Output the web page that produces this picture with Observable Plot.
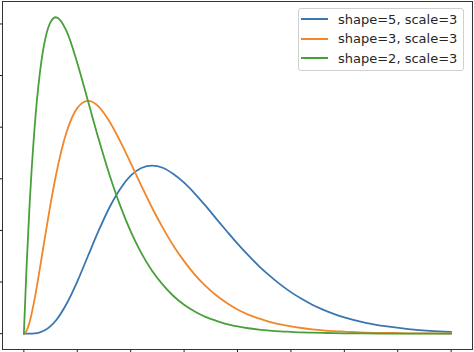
<!DOCTYPE html>
<html>
<head>
<meta charset="utf-8">
<script src="https://cdn.jsdelivr.net/npm/d3@7"></script>
<script src="https://cdn.jsdelivr.net/npm/@observablehq/plot@0.6"></script>
<style>
  html, body { margin: 0; padding: 0; background: #fff; }
  #wrap { position: relative; width: 474px; height: 352px; }
  #legend {
    position: absolute; left: 298px; top: 8px; width: 166px; height: 63px;
    border: 1px solid #d0d0d0; border-radius: 3px; background: rgba(255,255,255,0.8);
    font-family: "DejaVu Sans", sans-serif; font-size: 13px; color: #262626;
    box-sizing: border-box; padding-top: 0.5px;
  }
  .row { display: flex; align-items: center; height: 19.5px; }
  .swatch { display: inline-block; width: 27px; height: 2px; margin-left: 2px; margin-right: 10px; }
</style>
</head>
<body>
<div id="wrap"></div>
<script>
// Sample positions (x) and density values
const xs = [0,0.25,0.5,1,1.5,2,2.5,3,4,5,6,7,8,9,10,11,12,13,14,15,16,17,18,19,20,21,22,23,24,25,26,27,28,29,30,32,34,36,38,40];
const shape5 = [0,0,0.00001,0.0001,0.0005,0.0014,0.0029,0.0051,0.0116,0.0202,0.0301,0.0399,0.0488,0.0560,0.0612,0.0642,0.0651,0.0643,0.0619,0.0585,0.0543,0.0496,0.0446,0.0397,0.0349,0.0304,0.0262,0.0225,0.0191,0.0161,0.0135,0.0112,0.0093,0.0077,0.0063,0.0042,0.0028,0.0018,0.0011,0.0007];
const shape3 = [0,0.0011,0.0039,0.0133,0.0253,0.0380,0.0503,0.0613,0.0781,0.0874,0.0902,0.0880,0.0823,0.0747,0.0661,0.0573,0.0488,0.0411,0.0341,0.0281,0.0229,0.0185,0.0149,0.0119,0.0094,0.0074,0.0059,0.0046,0.0036,0.0028,0.0022,0.0017,0.0013,0.0010,0.0008,0.0004,0.0003,0.00015,0.00008,0.00005];
const shape2 = [0,0.0256,0.0470,0.0796,0.1011,0.1141,0.1207,0.1226,0.1172,0.1049,0.0902,0.0754,0.0618,0.0498,0.0396,0.0312,0.0244,0.0190,0.0146,0.0112,0.0086,0.0065,0.0050,0.0037,0.0028,0.0021,0.0016,0.0012,0.0009,0.0007,0.0005,0.0004,0.0003,0.0002,0.00015,0.00008,0.00005,0.00002,0.00001,0.00001];
const seriesNames = ["shape=5, scale=3", "shape=3, scale=3", "shape=2, scale=3"];
const seriesColors = ["#3b76b1", "#f2862a", "#48a03a"];
const xTicks = [0,5,10,15,20,25,30,35,40];
const yTicks = [0,0.02,0.04,0.06,0.08,0.10,0.12];

const allSeries = [shape5, shape3, shape2];
const table = [];
allSeries.forEach((vals, si) => {
  xs.forEach((x, i) => table.push({series: seriesNames[si], x, y: vals[i]}));
});

const chart = Plot.plot({
  width: 474,
  height: 352,
  marginLeft: 2,
  marginRight: 2,
  marginTop: 1,
  marginBottom: 3,
  x: {domain: [-2, 42], label: null},
  y: {domain: [-0.00613, 0.1287], label: null},
  color: {domain: seriesNames, range: seriesColors},
  style: {background: "#fff"},
  marks: [
    Plot.axisX({ticks: xTicks, tickSize: 3.5, tickFormat: () => "", label: null, stroke: "#000", strokeOpacity: 0.9}),
    Plot.axisY({ticks: yTicks, tickSize: 3.5, tickFormat: () => "", label: null, stroke: "#000", strokeOpacity: 0.9}),
    Plot.line(table, {x: "x", y: "y", z: "series", stroke: "series", strokeWidth: 1.8, curve: "monotone-x"}),
    Plot.frame({stroke: "#333", strokeWidth: 1})
  ]
});
const wrap = document.getElementById("wrap");
wrap.appendChild(chart);

const legend = document.createElement("div");
legend.id = "legend";
seriesNames.forEach((name, i) => {
  const row = document.createElement("div");
  row.className = "row";
  const sw = document.createElement("span");
  sw.className = "swatch";
  sw.style.background = seriesColors[i];
  const label = document.createElement("span");
  label.textContent = name;
  row.appendChild(sw);
  row.appendChild(label);
  legend.appendChild(row);
});
wrap.appendChild(legend);
</script>
</body>
</html>
